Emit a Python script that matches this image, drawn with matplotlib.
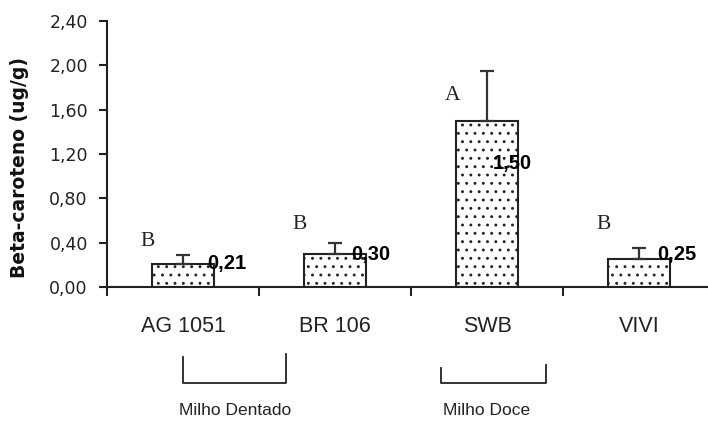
import matplotlib
matplotlib.use("Agg")
import matplotlib.pyplot as plt
import numpy as np

# data
cultivares = ["AG 1051", "BR 106", "SWB", "VIVI"]
beta_caroteno = [0.21, 0.30, 1.50, 0.25]
erro = [0.08, 0.10, 0.45, 0.10]
letras = ["B", "B", "A", "B"]
letra_altura = [0.41, 0.56, 1.73, 0.56]
rotulos = ["0,21", "0,30", "1,50", "0,25"]
rotulo_altura = [0.21, 0.29, 1.11, 0.29]
yticks = [0.0, 0.4, 0.8, 1.2, 1.6, 2.0, 2.4]
grupos = ["Milho Dentado", "Milho Doce"]

# horizontal shift of the value labels (fraction of a category)
rotulo_dx = [0.16, 0.11, 0.035, 0.12]

plt.rcParams["hatch.linewidth"] = 0.9
plt.rcParams["hatch.color"] = "#333333"

fig = plt.figure(figsize=(7.08, 4.22), dpi=100)
ax = fig.add_axes([107 / 708, 1 - 287 / 422, 608 / 708, 266 / 422])

x = np.arange(len(cultivares))
ax.bar(x, beta_caroteno, width=0.405, color="white", edgecolor="#222222",
       linewidth=1.5, hatch="..", zorder=2)
ax.errorbar(x, beta_caroteno, yerr=[np.zeros(len(erro)), erro], fmt="none",
            ecolor="#333333", elinewidth=1.6, capsize=5, capthick=1.6, zorder=3)

for i in range(len(x)):
    ax.text(x[i] - 0.23, letra_altura[i], letras[i], ha="center", va="center",
            family="Liberation Serif", fontsize=15.5, color="#222222")
    ax.text(x[i] + rotulo_dx[i], rotulo_altura[i], rotulos[i], ha="left",
            va="center", family="Liberation Sans", fontweight="bold",
            fontsize=14.5, zorder=4)

ax.set_xlim(-0.5, 3.5)
ax.set_ylim(0, 2.4)
ax.set_yticks(yticks)
ax.set_yticklabels([f"{v:.2f}".replace(".", ",") for v in yticks],
                   family="DejaVu Sans", fontsize=12.5, color="#222222")
ax.set_xticks(x)
ax.set_xticklabels(cultivares, family="Liberation Sans", fontsize=15.5,
                   color="#222222")
ax.set_xticks(np.arange(-0.5, 3.5, 1.0), minor=True)
ax.tick_params(axis="x", which="major", length=0, pad=21)
ax.tick_params(axis="x", which="minor", length=6.5, width=1.5, direction="out",
               color="#222222")
ax.tick_params(axis="y", length=5.8, width=1.5, pad=8, color="#222222")

for s in ["top", "right"]:
    ax.spines[s].set_visible(False)
ax.spines["left"].set_linewidth(1.5)
ax.spines["bottom"].set_linewidth(1.5)
ax.spines["left"].set_color("#222222")
ax.spines["bottom"].set_color("#222222")

fig.text(20 / 708, 1 - 167 / 422, "Beta-caroteno (ug/g)", rotation=90,
         ha="center", va="center", family="DejaVu Sans", fontweight="bold",
         fontsize=13.5, color="#111111")

# brackets grouping cultivars
tr = ax.get_xaxis_transform()
ax.plot([0.0, 0.0, 0.68, 0.68], [-0.263, -0.361, -0.361, -0.25],
        color="#222222", lw=1.3, transform=tr, clip_on=False)
ax.plot([1.70, 1.70, 2.39, 2.39], [-0.305, -0.361, -0.361, -0.293],
        color="#222222", lw=1.3, transform=tr, clip_on=False)
ax.text(0.34, -0.465, grupos[0], ha="center", va="center", transform=tr,
        family="Liberation Sans", fontsize=12.5, color="#222222")
ax.text(2.0, -0.465, grupos[1], ha="center", va="center", transform=tr,
        family="Liberation Sans", fontsize=12.5, color="#222222")

fig.savefig("out.png", dpi=100)
